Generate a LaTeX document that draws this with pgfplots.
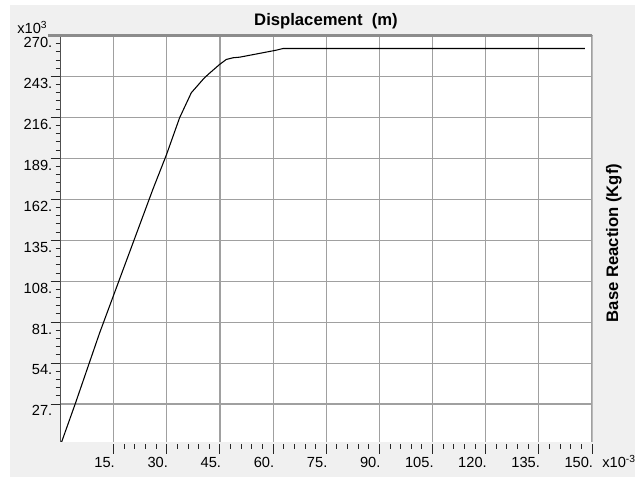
\documentclass[border=0pt]{standalone}
\usepackage{pgfplots}
\pgfplotsset{compat=1.18}
\usepackage{fontspec}
\setmainfont{Liberation Sans}
\definecolor{bggray}{HTML}{F0F0F0}
\definecolor{gridgray}{HTML}{A0A0A0}
\definecolor{topgray}{HTML}{8C8C8C}
\definecolor{spine}{HTML}{505050}
\begin{document}
\begin{tikzpicture}
\useasboundingbox (0,0) rectangle (476.25pt,357.75pt);
\fill[white] (0,0) rectangle (476.25pt,357.75pt);
\fill[bggray] (7.5pt,0) rectangle (476.25pt,354pt);
\begin{axis}[
  at={(45.4pt,26.25pt)}, anchor=south west,
  scale only axis, width=398.6pt, height=304.9pt,
  xmin=0, xmax=150, ymin=2, ymax=270,
  axis line style={draw=none},
  axis background/.style={fill=white},
  xtick={15,30,...,150}, ytick={27,54,...,270},
  xticklabels={15.,30.,45.,60.,75.,90.,105.,120.,135.,150.},
  yticklabels={27.,54.,81.,108.,135.,162.,189.,216.,243.,270.},
  minor x tick num=4, minor y tick num=4,
  grid=major,
  major grid style={draw=gridgray, line width=0.9pt},
  minor grid style={draw=none},
  tick align=outside, tick pos=left,
  major tick length=7.5pt, minor tick length=3.75pt,
  every tick/.style={draw=black!85, line width=0.75pt},
  xtick style={yshift=-1.5pt},
  ticklabel style={font=\fontsize{11}{13}\selectfont, inner sep=0pt},
  xticklabel style={anchor=north east, xshift=1pt, yshift=-4pt},
  yticklabel style={anchor=north east, xshift=1.5pt, yshift=-1pt},
]
\addplot[black, line width=0.8pt] coordinates {
(0,0) (4.2,27.5) (11,73.7) (26.1,168.8) (29.9,191.4) (33.6,215.7)
(36.9,232.2) (40.2,241.0) (41.6,244.2) (44.9,250.9) (46.8,254.2)
(48.7,255.3) (50.6,255.7) (60.9,260.3) (62.8,261.4) (148,261.4)
};
\end{axis}
\draw[spine, line width=0.75pt] (45pt,26.25pt) -- (45pt,331.1pt);
\draw[gray!55, line width=0.6pt] (444pt,26.25pt) -- (444pt,331.1pt);
\draw[topgray, line width=2.2pt] (36pt,331.1pt) -- (444pt,331.1pt);
\node[anchor=base, font=\bfseries\fontsize{12.5}{15}\selectfont] at (244.5pt,338.25pt) {Displacement\ \ (m)};
\node[rotate=90, anchor=base, font=\bfseries\fontsize{12.5}{15}\selectfont] at (463.5pt,175.5pt) {Base Reaction (Kgf)};
\node[anchor=base west, inner sep=0pt, font=\fontsize{11}{13}\selectfont] at (12.75pt,332.6pt) {x10\textsuperscript{3}};
\node[anchor=base west, inner sep=0pt, font=\fontsize{11}{13}\selectfont] at (451.5pt,6.75pt) {x10\textsuperscript{-3}};
\end{tikzpicture}
\end{document}
